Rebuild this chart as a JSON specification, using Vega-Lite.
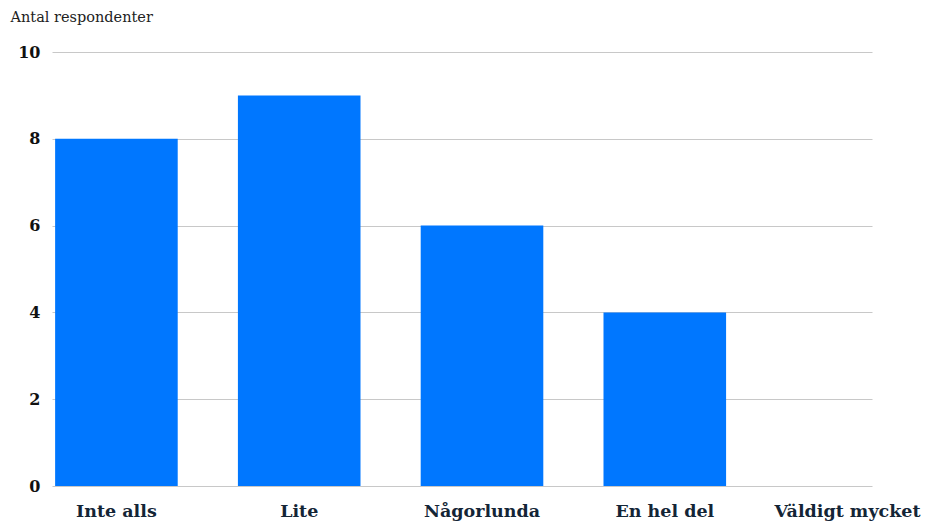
{
  "$schema": "https://vega.github.io/schema/vega-lite/v6.json",
  "autosize": "none",
  "padding": {"left": 52, "top": 52, "right": 54, "bottom": 39},
  "width": 820,
  "height": 434,
  "background": "white",
  "config": {"view": {"stroke": null}},
  "data": {
    "values": [
      {"svar": "Inte alls", "antal": 8},
      {"svar": "Lite", "antal": 9},
      {"svar": "Någorlunda", "antal": 6},
      {"svar": "En hel del", "antal": 4},
      {"svar": "Väldigt mycket", "antal": 0}
    ]
  },
  "mark": {"type": "bar", "color": "#0077ff", "width": {"band": 1.38}, "xOffset": 20},
  "encoding": {
    "x": {
      "field": "svar",
      "type": "nominal",
      "sort": null,
      "scale": {"paddingInner": 0.514, "paddingOuter": 0, "align": 0},
      "axis": {
        "title": null,
        "labelAngle": 0,
        "ticks": false,
        "domain": false,
        "labelPadding": 16,
        "labelOffset": 20,
        "labelFont": "DejaVu Serif",
        "labelFontWeight": "bold",
        "labelFontSize": 17.5,
        "labelColor": "#142536"
      }
    },
    "y": {
      "field": "antal",
      "type": "quantitative",
      "scale": {"domain": [0, 10], "nice": false},
      "axis": {
        "values": [0, 2, 4, 6, 8, 10],
        "ticks": false,
        "domain": false,
        "gridColor": "#c8c8c8",
        "gridWidth": 1,
        "labelPadding": 12,
        "labelFont": "DejaVu Serif",
        "labelFontWeight": "bold",
        "labelFontSize": 16,
        "labelColor": "#111111",
        "title": "Antal respondenter",
        "titleAngle": 0,
        "titleAlign": "left",
        "titleBaseline": "alphabetic",
        "titleX": -42,
        "titleY": -31,
        "titleFont": "DejaVu Serif",
        "titleFontWeight": "normal",
        "titleFontSize": 14.5,
        "titleColor": "#222222"
      }
    }
  }
}
